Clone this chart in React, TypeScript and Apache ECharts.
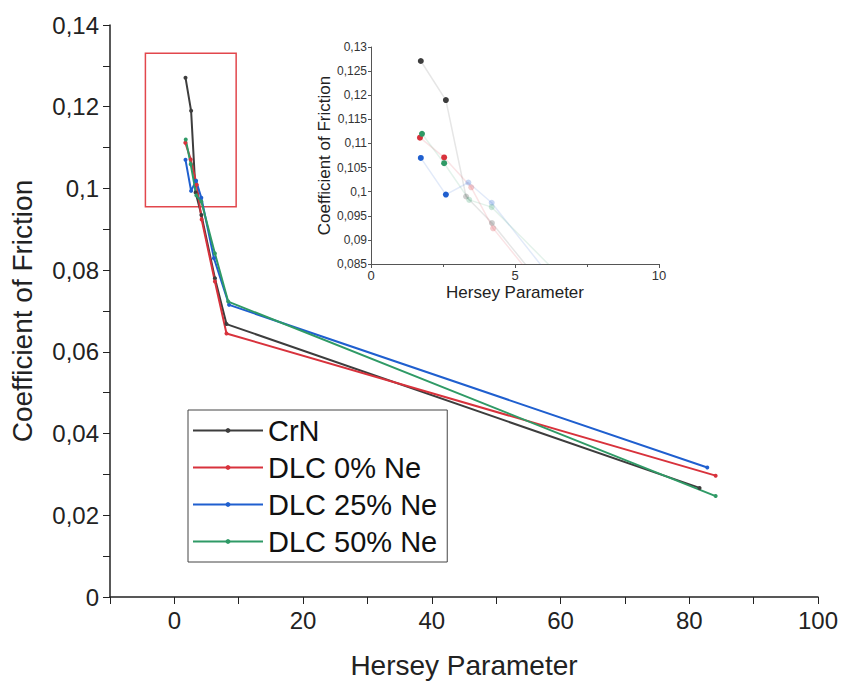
import React, { useEffect, useRef } from "react";
import * as echarts from "echarts";

const seriesNames = ["CrN", "DLC 0% Ne", "DLC 25% Ne", "DLC 50% Ne"];
const seriesColors = ["#3d3d3d", "#d8323c", "#1f5fcf", "#2f9a66"];

// [Hersey Parameter, Coefficient of Friction]
const crn = [
  [1.73, 0.1271], [2.6, 0.119], [3.3, 0.099], [4.2, 0.0935], [6.3, 0.078], [8.1, 0.0668], [81.6, 0.0267],
];
const dlc0 = [
  [1.7, 0.1112], [2.54, 0.1071], [3.48, 0.1009], [4.24, 0.0924], [6.3, 0.0772], [8.1, 0.0645], [84.1, 0.0297],
];
const dlc25 = [
  [1.73, 0.107], [2.6, 0.0994], [3.38, 0.1019], [4.19, 0.0977], [6.15, 0.0829], [8.5, 0.0715], [82.8, 0.0317],
];
const dlc50 = [
  [1.77, 0.112], [2.54, 0.1059], [3.41, 0.0983], [4.19, 0.0968], [6.3, 0.0841], [8.36, 0.0723], [84.1, 0.0247],
];
const allData = [crn, dlc0, dlc25, dlc50];

// zoom window drawn on the main chart (data coordinates)
const zoomBox = [[-4.5, 0.1331], [9.6, 0.0955]];

const FONT = "'Liberation Sans', Arial, sans-serif";

export default function App() {
  const ref = useRef<HTMLDivElement>(null);
  useEffect(() => {
    const chart = echarts.init(ref.current!, null, { renderer: "svg" });
    const mainSeries = allData.map((d, i) => ({
      name: seriesNames[i],
      type: "line",
      xAxisIndex: 0,
      yAxisIndex: 0,
      data: d,
      symbol: "circle",
      symbolSize: 4,
      showSymbol: true,
      lineStyle: { width: 2, color: seriesColors[i] },
      itemStyle: { color: seriesColors[i] },
      z: 3,
      ...(i === 0
        ? {
            markArea: {
              silent: true,
              itemStyle: { color: "rgba(0,0,0,0)", borderColor: "#e2474c", borderWidth: 1.5 },
              data: [[{ coord: zoomBox[0] }, { coord: zoomBox[1] }]],
            },
          }
        : {}),
    }));
    const insetSeries = allData.map((d, i) => ({
      name: seriesNames[i] + " (inset)",
      type: "line",
      xAxisIndex: 1,
      yAxisIndex: 1,
      clip: true,
      symbol: "circle",
      symbolSize: 6,
      data: d.map((p, j) => ({
        value: p,
        itemStyle: { color: seriesColors[i], opacity: j < 2 ? 1 : 0.25 },
      })),
      lineStyle: { width: 1.5, color: seriesColors[i], opacity: 0.13 },
      itemStyle: { color: seriesColors[i] },
      z: 4,
    }));
    chart.setOption({
      animation: false,
      backgroundColor: "#ffffff",
      textStyle: { fontFamily: FONT },
      grid: [
        { left: 110, right: 19, top: 25, bottom: 87 },
        { left: 371, top: 47, width: 288, height: 217 },
      ],
      legend: {
        data: seriesNames,
        orient: "vertical",
        left: 188,
        top: 410,
        padding: [6, 10, 6, 4],
        itemGap: 8,
        itemWidth: 70,
        itemHeight: 6,
        borderColor: "#444",
        borderWidth: 1,
        backgroundColor: "#fff",
        textStyle: { fontSize: 29, color: "#111", fontFamily: FONT, lineHeight: 29 },
        z: 10,
      },
      xAxis: [
        {
          type: "value",
          gridIndex: 0,
          min: -10,
          max: 100,
          interval: 10,
          splitLine: { show: false },
          axisLine: { onZero: false, lineStyle: { color: "#222", width: 1.5 } },
          axisTick: { length: 7, lineStyle: { color: "#222" } },
          axisLabel: {
            fontSize: 24,
            color: "#222",
            margin: 11,
            formatter: (v: number) => (Math.round(v) % 20 === 0 ? String(Math.round(v)) : ""),
          },
          name: "Hersey Parameter",
          nameLocation: "middle",
          nameGap: 54,
          nameTextStyle: { fontSize: 28, color: "#222" },
        },
        {
          type: "value",
          gridIndex: 1,
          min: 0,
          max: 10,
          interval: 5,
          splitLine: { show: false },
          axisLine: { onZero: false, lineStyle: { color: "#555", width: 1 } },
          axisTick: { length: 4, lineStyle: { color: "#555" } },
          minorTick: { show: true, splitNumber: 2, length: 3, lineStyle: { color: "#555" } },
          axisLabel: { fontSize: 13, color: "#333", margin: 5 },
          name: "Hersey Parameter",
          nameLocation: "middle",
          nameGap: 20,
          nameTextStyle: { fontSize: 17, color: "#222" },
        },
      ],
      yAxis: [
        {
          type: "value",
          gridIndex: 0,
          min: 0,
          max: 0.14,
          interval: 0.01,
          splitLine: { show: false },
          axisLine: { show: true, onZero: false, lineStyle: { color: "#222", width: 1.5 } },
          axisTick: { show: true, length: 7, lineStyle: { color: "#222" } },
          axisLabel: {
            fontSize: 24,
            color: "#222",
            margin: 11,
            formatter: (v: number) => {
              const r = Math.round(v * 100);
              if (r % 2 !== 0) return "";
              return String(+v.toFixed(2)).replace(".", ",");
            },
          },
          name: "Coefficient of Friction",
          nameLocation: "middle",
          nameGap: 74,
          nameTextStyle: { fontSize: 28, color: "#222" },
        },
        {
          type: "value",
          gridIndex: 1,
          min: 0.085,
          max: 0.13,
          interval: 0.005,
          splitLine: { show: false },
          axisLine: { show: true, onZero: false, lineStyle: { color: "#555", width: 1 } },
          axisTick: { show: true, length: 3, lineStyle: { color: "#555" } },
          axisLabel: {
            fontSize: 12,
            color: "#333",
            margin: 4,
            formatter: (v: number) => String(+v.toFixed(3)).replace(".", ","),
          },
          name: "Coefficient of Friction",
          nameLocation: "middle",
          nameGap: 32,
          nameTextStyle: { fontSize: 17, color: "#222" },
        },
      ],
      series: [...mainSeries, ...insetSeries],
    });
    return () => chart.dispose();
  }, []);
  return (
    <div
      ref={ref}
      style={{ position: "fixed", left: 0, top: 0, width: 841, height: 684 }}
    />
  );
}
